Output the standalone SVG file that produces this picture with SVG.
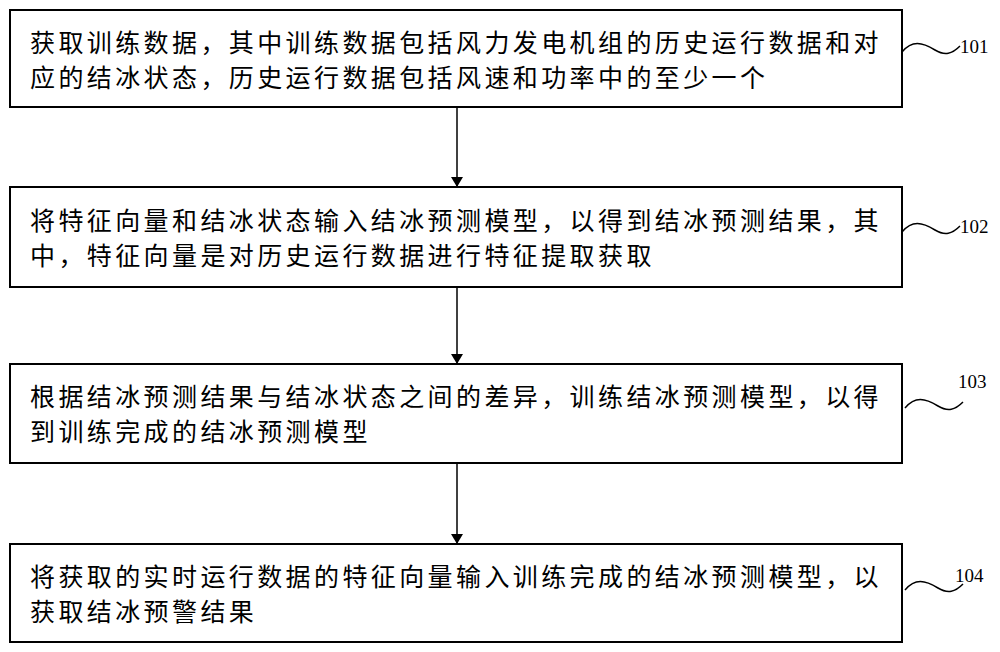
<svg xmlns="http://www.w3.org/2000/svg" width="1000" height="652" viewBox="0 0 1000 652">
<style>
.box{fill:#fff;stroke:#000;stroke-width:2}
.t{font-family:"Noto Sans CJK SC","Noto Sans CJK JP",sans-serif;font-size:25px;letter-spacing:3.4px;fill:#000}
.n{font-family:"Liberation Serif",serif;font-size:19px;fill:#000}
.sq{fill:none;stroke:#000;stroke-width:1.5}
.c{stroke:#000;stroke-width:1.5;fill:none}
</style>
<defs><marker id="a" markerWidth="10" markerHeight="12" refX="9" refY="6" orient="auto" markerUnits="userSpaceOnUse"><path d="M0,0 L10,6 L0,12 Z"/></marker></defs>
<rect width="1000" height="652" fill="#fff"/>
<g id="n101"><rect class="box" x="10" y="10" width="892" height="97"/>
<text class="t" x="30" y="52">获取训练数据，其中训练数据包括风力发电机组的历史运行数据和对</text>
<text class="t" x="30" y="87">应的结冰状态，历史运行数据包括风速和功率中的至少一个</text>
<path class="sq" d="M902,52 C912,40 922,42 935,50 C945,56 952,54 960,46"/><text class="n" x="960" y="53">101</text></g>
<g id="n102"><rect class="box" x="10" y="187" width="892" height="100"/>
<text class="t" x="30" y="230">将特征向量和结冰状态输入结冰预测模型，以得到结冰预测结果，其</text>
<text class="t" x="30" y="265">中，特征向量是对历史运行数据进行特征提取获取</text>
<path class="sq" d="M902,232 C912,220 922,222 935,230 C945,236 952,234 960,226"/><text class="n" x="960" y="233">102</text></g>
<g id="n103"><rect class="box" x="10" y="364" width="892" height="99"/>
<text class="t" x="30" y="406">根据结冰预测结果与结冰状态之间的差异，训练结冰预测模型，以得</text>
<text class="t" x="30" y="441">到训练完成的结冰预测模型</text>
<path class="sq" d="M905,408 C915,396 925,398 938,406 C948,412 955,410 963,402"/><text class="n" x="958" y="388">103</text></g>
<g id="n104"><rect class="box" x="10" y="544" width="892" height="98"/>
<text class="t" x="30" y="586">将获取的实时运行数据的特征向量输入训练完成的结冰预测模型，以</text>
<text class="t" x="30" y="621">获取结冰预警结果</text>
<path class="sq" d="M905,590 C915,578 925,580 938,588 C948,594 955,592 963,584"/><text class="n" x="955" y="582">104</text></g>
<g id="connectors">
<line class="c" x1="457" y1="107" x2="457" y2="186" marker-end="url(#a)"/>
<line class="c" x1="457" y1="287" x2="457" y2="363" marker-end="url(#a)"/>
<line class="c" x1="457" y1="463" x2="457" y2="543" marker-end="url(#a)"/>
</g>
</svg>
